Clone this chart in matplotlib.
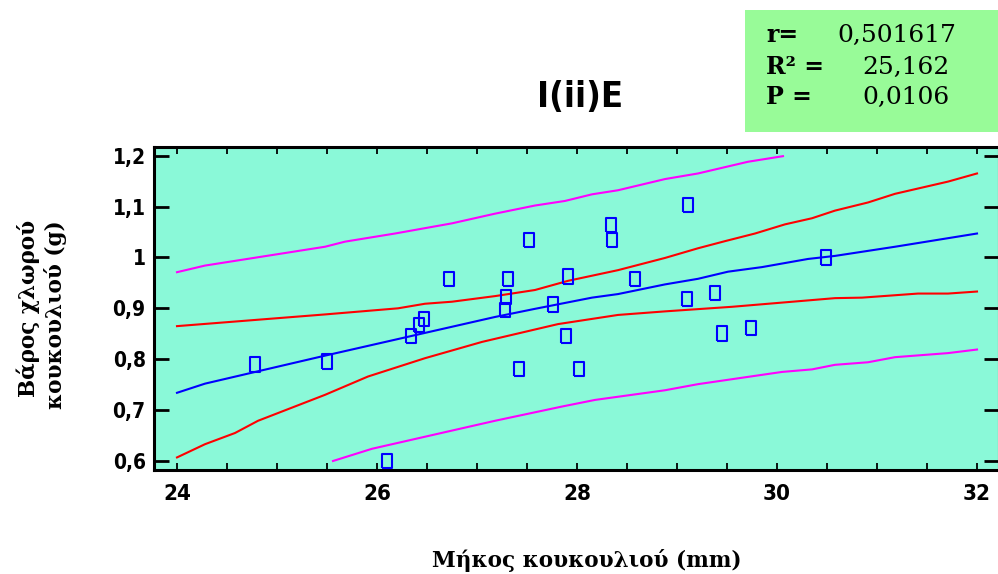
import matplotlib
matplotlib.use("Agg")
import matplotlib.pyplot as plt
import matplotlib.font_manager as fm
from matplotlib.patches import Rectangle
from matplotlib.ticker import FixedLocator, FixedFormatter, MultipleLocator

# Observations: cocoon length (mm) vs. chlorine weight (g)
cocoon_length = [24.78, 25.50, 26.10, 26.34, 26.42, 26.47, 26.72, 27.28, 27.29,
                 27.31, 27.42, 27.52, 27.76, 27.89, 27.91, 28.02, 28.34, 28.35,
                 28.58, 29.10, 29.11, 29.38, 29.45, 29.74, 30.49]
chlorine_weight = [0.790, 0.795, 0.600, 0.846, 0.867, 0.879, 0.958, 0.897, 0.922,
                   0.958, 0.781, 1.034, 0.908, 0.846, 0.963, 0.781, 1.064, 1.034,
                   0.958, 0.918, 1.103, 0.930, 0.850, 0.861, 1.000]

# Fitted regression line
fit_x = [24.0, 24.28, 25.48, 27.18, 27.58, 28.15, 28.41, 28.88, 29.21, 29.51,
         29.85, 30.31, 30.58, 31.18, 32.0]
fit_y = [0.734, 0.752, 0.807, 0.883, 0.899, 0.921, 0.928, 0.947, 0.958, 0.972,
         0.981, 0.997, 1.003, 1.021, 1.047]

# Confidence limits for the mean
conf_hi_x = [24.0, 25.48, 26.21, 26.48, 26.75, 27.18, 27.58, 27.91, 28.41, 28.88,
             29.21, 29.48, 29.78, 30.08, 30.35, 30.58, 30.91, 31.18, 31.71, 32.0]
conf_hi_y = [0.865, 0.888, 0.900, 0.909, 0.913, 0.924, 0.936, 0.954, 0.975, 0.999,
             1.018, 1.032, 1.047, 1.065, 1.077, 1.092, 1.108, 1.125, 1.149, 1.165]
conf_lo_x = [24.0, 24.28, 24.58, 24.81, 25.48, 25.91, 26.48, 27.05, 27.18, 27.81,
             28.41, 28.88, 29.55, 30.58, 30.85, 31.41, 31.71, 32.0]
conf_lo_y = [0.607, 0.633, 0.655, 0.679, 0.730, 0.766, 0.802, 0.834, 0.840, 0.869,
             0.887, 0.894, 0.903, 0.920, 0.921, 0.929, 0.929, 0.933]

# Prediction limits
pred_hi_x = [24.0, 24.28, 25.48, 25.68, 26.18, 26.75, 27.18, 27.58, 27.88, 28.15,
             28.41, 28.88, 29.21, 29.71, 30.06]
pred_hi_y = [0.971, 0.984, 1.021, 1.031, 1.047, 1.067, 1.086, 1.102, 1.111, 1.124,
             1.132, 1.154, 1.165, 1.188, 1.199]
pred_lo_x = [25.56, 25.95, 27.18, 27.85, 28.18, 28.88, 29.21, 30.05, 30.35, 30.58,
             30.91, 31.18, 31.71, 32.0]
pred_lo_y = [0.600, 0.624, 0.679, 0.707, 0.720, 0.739, 0.751, 0.775, 0.780, 0.789,
             0.794, 0.804, 0.812, 0.819]

x_ticks = [24, 26, 28, 30, 32]
x_tick_labels = ["24", "26", "28", "30", "32"]
y_ticks = [0.6, 0.7, 0.8, 0.9, 1.0, 1.1, 1.2]
y_tick_labels = ["0,6", "0,7", "0,8", "0,9", "1", "1,1", "1,2"]

stat_names = ["r=", "R² =", "P ="]
stat_values = ["0,501617", "25,162", "0,0106"]


def _weight_num(w):
    if isinstance(w, (int, float)):
        return w
    return fm.weight_dict.get(w, 400)


def narrow_bold_font():
    """Pick an installed condensed bold sans face; fall back to DejaVu Sans Bold."""
    preferred = ["Liberation Sans Narrow", "Arial Narrow", "DejaVu Sans",
                 "Roboto", "Noto Sans", "Open Sans", "Liberation Sans"]
    best = None
    for f in fm.fontManager.ttflist:
        if f.style != "normal":
            continue
        cond = ("condensed" in str(f.stretch)) or ("Narrow" in f.name) or \
               ("Condensed" in f.name)
        if not cond:
            continue
        w = _weight_num(f.weight)
        rank = preferred.index(f.name) if f.name in preferred else len(preferred)
        key = (abs(w - 700), rank)
        if best is None or key < best[0]:
            best = (key, f.fname)
    if best is not None:
        return dict(fname=best[1])
    return dict(family="DejaVu Sans", weight="bold")


NARROW = narrow_bold_font()


def nfont(size):
    return fm.FontProperties(size=size, **NARROW)


serif = ["DejaVu Serif"]

W, H = 998, 574
fig = plt.figure(figsize=(W / 100, H / 100), dpi=100)
ax = fig.add_axes([154 / W, (H - 470) / H, 845 / W, 323 / H])
ax.set_facecolor("#8AF9D8")

ax.plot(pred_hi_x, pred_hi_y, color="#FF00FF", lw=1.5, zorder=2)
ax.plot(pred_lo_x, pred_lo_y, color="#FF00FF", lw=1.5, zorder=2)
ax.plot(conf_hi_x, conf_hi_y, color="#FF0000", lw=1.5, zorder=2)
ax.plot(conf_lo_x, conf_lo_y, color="#FF0000", lw=1.5, zorder=2)
ax.plot(fit_x, fit_y, color="#0000FF", lw=1.5, zorder=3)

rect_marker = [(-0.31, -0.5), (0.31, -0.5), (0.31, 0.5), (-0.31, 0.5), (-0.31, -0.5)]
ax.scatter(cocoon_length, chlorine_weight, marker=rect_marker, s=10.5 ** 2,
           facecolors="none", edgecolors="#0000FF", linewidths=1.5, zorder=4)

ax.set_xlim(23.77, 32.22)
ax.set_ylim(0.5823, 1.217)

ax.xaxis.set_major_locator(FixedLocator(x_ticks))
ax.xaxis.set_major_formatter(FixedFormatter(x_tick_labels))
ax.xaxis.set_minor_locator(MultipleLocator(0.5))
ax.yaxis.set_major_locator(FixedLocator(y_ticks))
ax.yaxis.set_major_formatter(FixedFormatter(y_tick_labels))

ax.tick_params(axis="x", which="both", direction="in", top=True, bottom=True,
               length=5, width=1.3, pad=10)
ax.tick_params(axis="y", which="major", direction="in", left=True, right=True,
               length=11, width=2, pad=6)
for lab in ax.get_xticklabels():
    lab.set_fontproperties(nfont(16))
for lab in ax.get_yticklabels():
    lab.set_fontproperties(nfont(15))

for sp in ax.spines.values():
    sp.set_linewidth(2.2)
    sp.set_color("black")

fig.text(580 / W, 1 - 97 / H, "I(ii)E", fontproperties=nfont(26),
         ha="center", va="center")

fig.text(587 / W, 1 - 560 / H, "Μήκος κουκουλιού (mm)", family=serif,
         fontweight="bold", fontsize=15.5, ha="center", va="center")
fig.text(42 / W, 1 - 220 / H, "Βάρος χλωρού\nκουκουλιού (g)", family=serif,
         fontweight="bold", fontsize=15.5, rotation=90, ha="center", va="top",
         multialignment="right", linespacing=1.2)

fig.patches.append(Rectangle((745 / W, 1 - 132 / H), (W - 745) / W, 122 / H,
                             transform=fig.transFigure, facecolor="#98FB98",
                             edgecolor="none", zorder=0))
rows_y = [35, 67, 97]
vals_x = [837, 862, 862]
for name, val, ry, vx in zip(stat_names, stat_values, rows_y, vals_x):
    fig.text(766 / W, 1 - ry / H, name, family=serif, fontweight="bold",
             fontsize=17, ha="left", va="center")
    fig.text(vx / W, 1 - ry / H, val, family=serif, fontsize=18,
             ha="left", va="center")

fig.savefig("out.png", dpi=100)
